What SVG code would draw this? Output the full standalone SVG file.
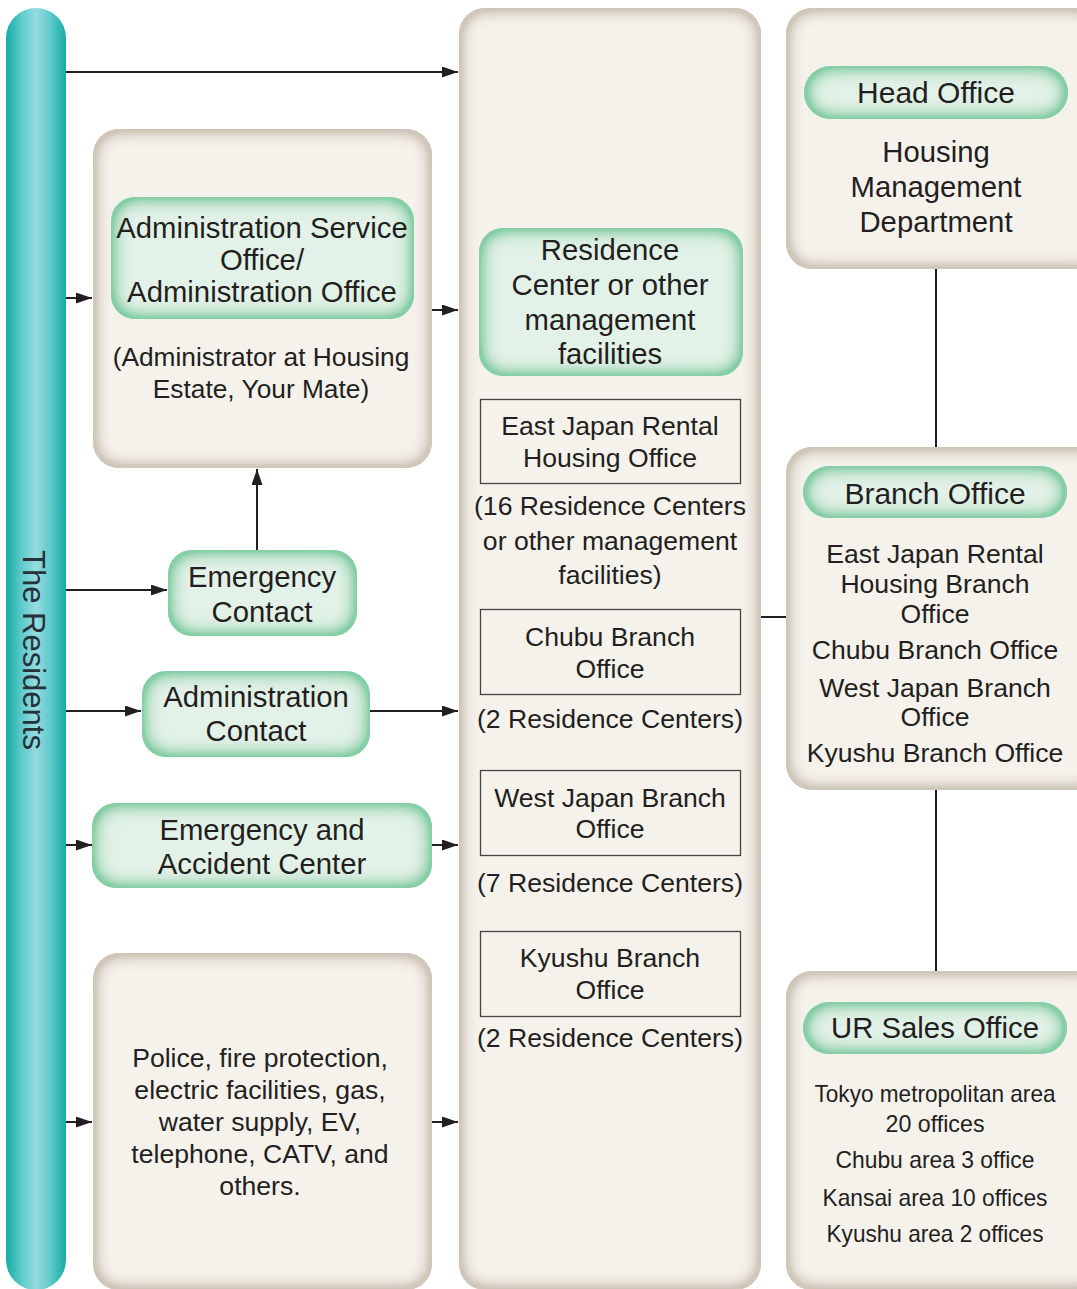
<svg xmlns="http://www.w3.org/2000/svg" width="1077" height="1289" viewBox="0 0 1077 1289">
<defs>
<linearGradient id="teal" x1="0" y1="0" x2="1" y2="0">
<stop offset="0" stop-color="#13aca6"/>
<stop offset="0.25" stop-color="#5cc9c9"/>
<stop offset="0.5" stop-color="#96dbe0"/>
<stop offset="0.75" stop-color="#5cc9c9"/>
<stop offset="1" stop-color="#13aca6"/>
</linearGradient>
<filter id="fb" x="0" y="0" width="1" height="1">
<feGaussianBlur in="SourceAlpha" stdDeviation="9" result="b"/>
<feComposite in="SourceAlpha" in2="b" operator="out" result="e"/>
<feComponentTransfer in="e" result="e2"><feFuncA type="linear" slope="2.4"/></feComponentTransfer>
<feFlood flood-color="#d0c6b9"/>
<feComposite in2="e2" operator="in" result="s"/>
<feMerge><feMergeNode in="SourceGraphic"/><feMergeNode in="s"/></feMerge>
</filter>
<filter id="fg" x="0" y="0" width="1" height="1">
<feGaussianBlur in="SourceAlpha" stdDeviation="10" result="b"/>
<feComposite in="SourceAlpha" in2="b" operator="out" result="e"/>
<feComponentTransfer in="e" result="e2"><feFuncA type="linear" slope="2.2"/></feComponentTransfer>
<feFlood flood-color="#86cfa6"/>
<feComposite in2="e2" operator="in" result="s"/>
<feMerge><feMergeNode in="SourceGraphic"/><feMergeNode in="s"/></feMerge>
</filter>
<marker id="ah" markerUnits="userSpaceOnUse" markerWidth="16" markerHeight="11" refX="16" refY="5.5" orient="auto">
<path d="M0,0 L16,5.5 L0,11 z" fill="#231f20"/>
</marker>
<style>
.beige{fill:#f5f2ec;filter:url(#fb)}
.green{fill:#e3f2e8;filter:url(#fg)}
.frame{fill:none;stroke:#444;stroke-width:1.3}
.t{font-family:"Liberation Sans",Arial,sans-serif;fill:#231f20;text-anchor:middle}
.s28{font-size:29.3px}
.s30{font-size:30px}
.s26{font-size:26.6px}
.s25{font-size:26.3px}
.s24{font-size:24px}
.c line{stroke:#231f20;stroke-width:2}
.c .a{marker-end:url(#ah)}
</style>
</defs>
<rect width="1077" height="1289" fill="#ffffff"/>

<g id="residents">
<rect x="6" y="8" width="60" height="1282" rx="30" fill="url(#teal)"/>
<text class="t" font-size="31" transform="translate(22.5,650) rotate(90)" style="fill:#26323a">The Residents</text>
</g>

<g id="admin-office">
<rect class="beige" x="93" y="129" width="339" height="339" rx="26"/>
<rect class="green" x="111" y="197" width="303" height="122" rx="24"/>
<text class="t s28" x="262" y="238">Administration Service</text>
<text class="t s28" x="262" y="270">Office/</text>
<text class="t s28" x="262" y="302">Administration Office</text>
<text class="t s25" x="261" y="366">(Administrator at Housing</text>
<text class="t s25" x="261" y="398">Estate, Your Mate)</text>
</g>

<g id="emergency-contact">
<rect class="green" x="168" y="550" width="189" height="86" rx="24"/>
<text class="t s28" x="262" y="587">Emergency</text>
<text class="t s28" x="262" y="622">Contact</text>
</g>

<g id="administration-contact">
<rect class="green" x="142" y="671" width="228" height="86" rx="24"/>
<text class="t s28" x="256" y="707">Administration</text>
<text class="t s28" x="256" y="741">Contact</text>
</g>

<g id="emergency-accident">
<rect class="green" x="92" y="803" width="340" height="85" rx="24"/>
<text class="t s28" x="262" y="840">Emergency and</text>
<text class="t s28" x="262" y="874">Accident Center</text>
</g>

<g id="police">
<rect class="beige" x="93" y="953" width="339" height="337" rx="26"/>
<text class="t s26" x="260" y="1067">Police, fire protection,</text>
<text class="t s26" x="260" y="1099">electric facilities, gas,</text>
<text class="t s26" x="260" y="1131">water supply, EV,</text>
<text class="t s26" x="260" y="1163">telephone, CATV, and</text>
<text class="t s26" x="260" y="1195">others.</text>
</g>

<g id="residence-center">
<rect class="beige" x="459" y="8" width="302" height="1282" rx="26"/>
<rect class="green" x="479" y="228" width="264" height="148" rx="24"/>
<text class="t s28" x="610" y="260">Residence</text>
<text class="t s28" x="610" y="295">Center or other</text>
<text class="t s28" x="610" y="330">management</text>
<text class="t s28" x="610" y="364">facilities</text>
<rect class="frame" x="480.5" y="399.5" width="260" height="84"/>
<text class="t s26" x="610" y="435">East Japan Rental</text>
<text class="t s26" x="610" y="467">Housing Office</text>
<text class="t s26" x="610" y="515">(16 Residence Centers</text>
<text class="t s26" x="610" y="550">or other management</text>
<text class="t s26" x="610" y="584">facilities)</text>
<rect class="frame" x="480.5" y="609.5" width="260" height="85"/>
<text class="t s26" x="610" y="646">Chubu Branch</text>
<text class="t s26" x="610" y="678">Office</text>
<text class="t s26" x="610" y="728">(2 Residence Centers)</text>
<rect class="frame" x="480.5" y="770.5" width="260" height="85"/>
<text class="t s26" x="610" y="807">West Japan Branch</text>
<text class="t s26" x="610" y="838">Office</text>
<text class="t s26" x="610" y="892">(7 Residence Centers)</text>
<rect class="frame" x="480.5" y="931.5" width="260" height="85"/>
<text class="t s26" x="610" y="967">Kyushu Branch</text>
<text class="t s26" x="610" y="999">Office</text>
<text class="t s26" x="610" y="1047">(2 Residence Centers)</text>
</g>

<g id="head-office">
<rect class="beige" x="786" y="8" width="320" height="261" rx="26"/>
<rect class="green" x="804" y="66" width="264" height="53" rx="26.5"/>
<text class="t s30" x="936" y="103">Head Office</text>
<text class="t s28" x="936" y="162">Housing</text>
<text class="t s28" x="936" y="197">Management</text>
<text class="t s28" x="936" y="232">Department</text>
</g>

<g id="branch-office">
<rect class="beige" x="786" y="447" width="320" height="343" rx="26"/>
<rect class="green" x="803" y="466" width="264" height="52" rx="26"/>
<text class="t s30" x="935" y="504">Branch Office</text>
<text class="t s26" x="935" y="563">East Japan Rental</text>
<text class="t s26" x="935" y="593">Housing Branch</text>
<text class="t s26" x="935" y="623">Office</text>
<text class="t s26" x="935" y="659">Chubu Branch Office</text>
<text class="t s26" x="935" y="697">West Japan Branch</text>
<text class="t s26" x="935" y="726">Office</text>
<text class="t s26" x="935" y="762">Kyushu Branch Office</text>
</g>

<g id="ur-sales-office">
<rect class="beige" x="786" y="971" width="320" height="319" rx="26"/>
<rect class="green" x="803" y="1002" width="264" height="52" rx="26"/>
<text class="t s28" x="935" y="1038">UR Sales Office</text>
<text class="t s24" x="935" y="1102" textLength="241" lengthAdjust="spacingAndGlyphs">Tokyo metropolitan area</text>
<text class="t s24" x="935" y="1132" textLength="99" lengthAdjust="spacingAndGlyphs">20 offices</text>
<text class="t s24" x="935" y="1168" textLength="199" lengthAdjust="spacingAndGlyphs">Chubu area 3 office</text>
<text class="t s24" x="935" y="1206" textLength="225" lengthAdjust="spacingAndGlyphs">Kansai area 10 offices</text>
<text class="t s24" x="935" y="1242" textLength="217" lengthAdjust="spacingAndGlyphs">Kyushu area 2 offices</text>
</g>

<g id="connectors" class="c">
<line class="a" x1="66" y1="72" x2="458" y2="72"/>
<line class="a" x1="66" y1="298" x2="92" y2="298"/>
<line class="a" x1="432" y1="310" x2="458" y2="310"/>
<line class="a" x1="66" y1="590" x2="167" y2="590"/>
<line class="a" x1="257" y1="550" x2="257" y2="469"/>
<line class="a" x1="66" y1="711" x2="141" y2="711"/>
<line class="a" x1="370" y1="711" x2="458" y2="711"/>
<line class="a" x1="66" y1="845" x2="92" y2="845"/>
<line class="a" x1="432" y1="845" x2="458" y2="845"/>
<line class="a" x1="66" y1="1122" x2="92" y2="1122"/>
<line class="a" x1="432" y1="1122" x2="458" y2="1122"/>
<line x1="936" y1="269" x2="936" y2="447"/>
<line x1="761" y1="617" x2="786" y2="617"/>
<line x1="936" y1="790" x2="936" y2="971"/>
</g>
</svg>
